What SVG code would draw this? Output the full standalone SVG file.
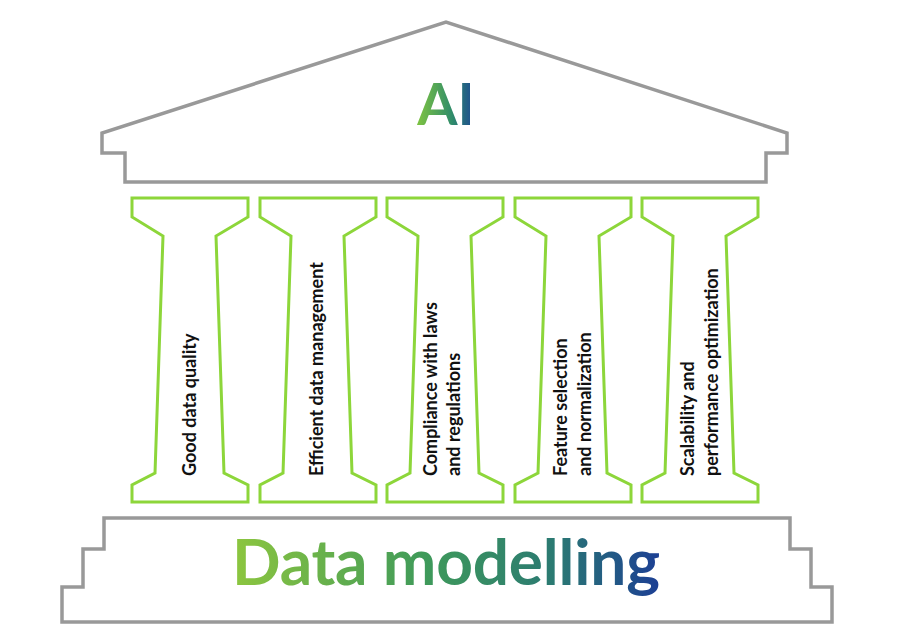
<svg xmlns="http://www.w3.org/2000/svg" width="900" height="630" viewBox="0 0 900 630">
<defs>
<linearGradient id="g1" gradientUnits="userSpaceOnUse" x1="232" y1="0" x2="660" y2="0">
<stop offset="0" stop-color="#8dc63f"/><stop offset="0.45" stop-color="#3f9a5a"/><stop offset="0.75" stop-color="#2b7a72"/><stop offset="1" stop-color="#1c3f94"/>
</linearGradient>
<linearGradient id="g2" gradientUnits="userSpaceOnUse" x1="418" y1="0" x2="475" y2="0">
<stop offset="0" stop-color="#7cc242"/><stop offset="0.6" stop-color="#2f8c6a"/><stop offset="1" stop-color="#1c4694"/>
</linearGradient>
<path id="pil" d="M0,0 H116 V19 L84,38 L92,275 L116,287 V304 H0 V287 L23,275 L31,38 L0,19 Z"/>
</defs>
<style>
.gray{fill:none;stroke:#999;stroke-width:3.5;stroke-linejoin:miter}
.p{fill:none;stroke:#8dd63a;stroke-width:3}
.t{font-family:Lato,"Liberation Sans",sans-serif;font-weight:bold;font-size:18px;fill:#111}
</style>
<rect width="900" height="630" fill="#fff"/>
<g id="roof">
<path class="gray" d="M125,182 V153 H102 V133 L446,22 L787,133 V153 H766 V182 Z"/>
<text x="446" y="125" text-anchor="middle" font-family="Lato,'Liberation Sans',sans-serif" font-weight="bold" font-size="58" fill="url(#g2)">AI</text>
</g>
<g id="base">
<path class="gray" d="M104,518 H790 V549 H811 V587 H832 V622 H62 V587 H83 V549 H104 Z"/>
<text x="446" y="585" text-anchor="middle" textLength="428" font-family="Lato,'Liberation Sans',sans-serif" font-weight="bold" font-size="64" fill="url(#g1)">Data modelling</text>
</g>
<g id="pillar1"><use href="#pil" x="132" y="198" class="p"/>
<text class="t" transform="translate(196,476) rotate(-90)">Good data quality</text></g>
<g id="pillar2"><use href="#pil" x="260" y="198" class="p"/>
<text class="t" transform="translate(323,476) rotate(-90)">Efficient data management</text></g>
<g id="pillar3"><use href="#pil" x="387" y="198" class="p"/>
<text class="t" transform="translate(437,476) rotate(-90)">Compliance with laws</text>
<text class="t" transform="translate(460,476) rotate(-90)">and regulations</text></g>
<g id="pillar4"><use href="#pil" x="515" y="198" class="p"/>
<text class="t" transform="translate(567,476) rotate(-90)">Feature selection</text>
<text class="t" transform="translate(591,476) rotate(-90)">and normalization</text></g>
<g id="pillar5"><use href="#pil" x="642" y="198" class="p"/>
<text class="t" transform="translate(694,476) rotate(-90)">Scalability and</text>
<text class="t" transform="translate(718,476) rotate(-90)">performance optimization</text></g>
<g id="connectors"/>
</svg>
